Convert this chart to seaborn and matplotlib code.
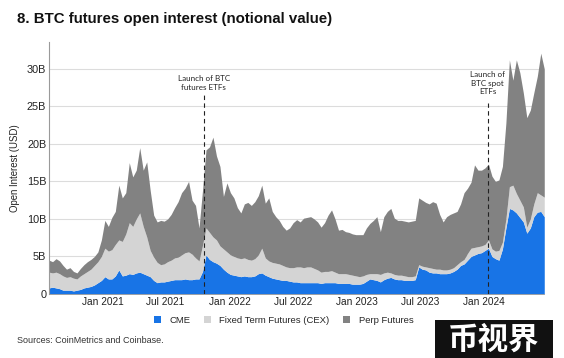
import matplotlib
matplotlib.use("Agg")
import matplotlib.pyplot as plt
from matplotlib.patches import Patch
import numpy as np
import pandas as pd
import seaborn as sns

# ── Data (USD billions, one reading every 10 days from Aug 2020) ─────────────
start_date = "2020-08-01"
step = "10D"

cme = [
    0.8, 0.9, 0.8, 0.7, 0.5, 0.5, 0.5, 0.4, 0.5, 0.6,
    0.8, 0.9, 1.0, 1.2, 1.5, 1.8, 2.3, 2.0, 2.0, 2.4,
    3.2, 2.4, 2.5, 2.7, 2.6, 2.8, 2.9, 2.7, 2.5, 2.3,
    1.8, 1.5, 1.6, 1.6, 1.7, 1.8, 1.9, 1.9, 1.9, 2.0,
    1.9, 1.9, 2.0, 2.0, 3.0, 5.2, 4.6, 4.3, 4.1, 3.8,
    3.3, 2.9, 2.6, 2.5, 2.4, 2.3, 2.4, 2.3, 2.3, 2.4,
    2.7, 2.8, 2.5, 2.3, 2.1, 2.0, 1.9, 1.8, 1.8, 1.7,
    1.6, 1.6, 1.5, 1.5, 1.5, 1.5, 1.5, 1.5, 1.4, 1.5,
    1.5, 1.5, 1.5, 1.4, 1.4, 1.4, 1.4, 1.3, 1.3, 1.3,
    1.4, 1.7, 2.0, 1.9, 1.8, 1.6, 1.9, 2.1, 2.2, 2.0,
    1.9, 1.9, 1.8, 1.8, 1.8, 1.9, 3.6, 3.3, 3.2, 2.9,
    2.8, 2.8, 2.7, 2.7, 2.7, 2.8, 3.0, 3.3, 3.8, 4.0,
    4.5, 5.0, 5.2, 5.4, 5.5, 5.8, 6.1, 5.0, 4.7, 4.5,
    6.0, 8.8, 11.4, 11.2, 10.8, 10.2, 9.6, 8.1, 8.8, 10.3,
    10.9, 11.0, 10.3,
]

fixed_term = [
    2.1, 1.9, 2.1, 2.0, 1.9, 1.7, 1.8, 1.7, 1.5, 1.8,
    1.9, 2.1, 2.3, 2.6, 2.8, 3.2, 3.8, 3.7, 3.9, 4.2,
    4.0, 4.6, 5.5, 6.8, 6.4, 7.2, 7.9, 6.3, 5.1, 3.5,
    3.1, 2.7, 2.3, 2.4, 2.6, 2.7, 2.9, 3.0, 3.3, 3.5,
    3.7, 3.4, 2.8, 2.4, 3.5, 3.6, 3.6, 3.3, 3.1, 2.6,
    2.7, 2.7, 2.6, 2.5, 2.4, 2.4, 2.4, 2.3, 2.2, 2.3,
    2.5, 3.3, 2.3, 2.1, 2.1, 2.1, 2.1, 2.0, 1.8, 1.8,
    1.9, 2.0, 2.1, 2.0, 2.1, 2.1, 1.9, 1.7, 1.5, 1.5,
    1.5, 1.6, 1.4, 1.3, 1.3, 1.3, 1.2, 1.2, 1.1, 1.0,
    1.0, 0.9, 0.7, 0.8, 0.9, 1.0, 0.9, 0.8, 0.6, 0.6,
    0.6, 0.6, 0.6, 0.5, 0.5, 0.5, 0.3, 0.4, 0.4, 0.6,
    0.6, 0.5, 0.6, 0.5, 0.5, 0.5, 0.5, 0.6, 0.5, 0.6,
    0.9, 1.1, 1.0, 0.9, 0.9, 0.8, 1.1, 1.0, 1.0, 1.3,
    0.9, 1.2, 2.9, 3.3, 2.6, 2.3, 2.0, 0.8, 1.2, 1.7,
    2.6, 2.2, 2.6,
]

perp = [
    1.6, 1.5, 1.8, 1.7, 1.4, 1.1, 1.2, 0.9, 0.8, 1.0,
    1.2, 1.3, 1.3, 1.2, 1.3, 2.2, 3.7, 3.3, 4.3, 4.4,
    7.3, 5.8, 5.5, 8.0, 6.6, 6.5, 8.7, 7.5, 10.0, 8.0,
    5.6, 5.4, 5.9, 5.7, 5.7, 6.1, 6.7, 7.4, 8.3, 8.6,
    9.4, 7.2, 7.0, 4.4, 7.3, 10.4, 11.4, 13.3, 11.2, 10.6,
    7.0, 9.2, 8.3, 7.8, 6.7, 6.1, 7.2, 7.6, 7.3, 7.6,
    7.9, 8.4, 7.3, 8.4, 6.8, 6.2, 5.8, 5.2, 4.9, 5.3,
    6.0, 6.3, 6.0, 6.6, 6.6, 6.7, 6.6, 6.4, 6.0, 6.5,
    7.5, 8.1, 7.1, 5.8, 5.9, 5.6, 5.6, 5.5, 5.5, 5.6,
    5.5, 6.2, 6.7, 7.1, 7.6, 5.7, 7.5, 8.1, 8.6, 7.5,
    7.3, 7.3, 7.3, 7.3, 7.4, 7.4, 8.9, 8.8, 8.6, 8.5,
    8.9, 8.8, 7.3, 6.4, 7.1, 7.3, 7.3, 7.1, 7.7, 8.9,
    8.7, 8.8, 11.0, 10.2, 10.1, 10.2, 10.1, 9.7, 9.3, 9.4,
    10.1, 12.8, 16.9, 14.0, 17.8, 17.0, 15.2, 14.6, 14.5, 14.8,
    15.5, 18.9, 17.1,
]

series_names = ["CME", "Fixed Term Futures (CEX)", "Perp Futures"]
series_colors = ["#1874e6", "#d4d4d4", "#828282"]

events = [
    ("2021-10-19", "Launch of BTC\nfutures ETFs", 26.5, 28.1),
    ("2024-01-11", "Launch of\nBTC spot\nETFs", 25.4, 28.1),
]

x_ticks = ["2021-01-01", "2021-07-01", "2022-01-01", "2022-07-01",
           "2023-01-01", "2023-07-01", "2024-01-01"]
x_tick_labels = ["Jan 2021", "Jul 2021", "Jan 2022", "Jul 2022",
                 "Jan 2023", "Jul 2023", "Jan 2024"]
y_ticks = [0, 5, 10, 15, 20, 25, 30]
y_tick_labels = ["0", "5B", "10B", "15B", "20B", "25B", "30B"]


# ──────────────────────────────────────────────────────────────────────────────
# Plot
# ──────────────────────────────────────────────────────────────────────────────
sns.set_theme(style="white")
plt.rcParams["font.family"] = ["Liberation Sans", "DejaVu Sans"]

dates = pd.date_range(start_date, periods=len(cme), freq=step)

fig = plt.figure(figsize=(5.64, 3.58), dpi=100)
ax = fig.add_axes([0.087, 0.179, 0.878, 0.704])

ax.stackplot(dates, cme, fixed_term, perp, colors=series_colors,
             linewidth=0, zorder=2)

ax.set_xlim(dates[0], dates[-1])
ax.set_ylim(0, 33.6)
ax.set_yticks(y_ticks)
ax.set_yticklabels(y_tick_labels, fontsize=7.8)
ax.set_xticks(pd.to_datetime(x_ticks))
ax.set_xticklabels(x_tick_labels, fontsize=7.3)
ax.tick_params(axis="both", length=0, pad=2, colors="#222222")
ax.yaxis.grid(True, color="#dcdcdc", linewidth=0.8, zorder=0)
ax.xaxis.grid(False)
ax.set_axisbelow(True)
for side in ["top", "right"]:
    ax.spines[side].set_visible(False)
ax.spines["left"].set_color("#9a9a9a")
ax.spines["left"].set_linewidth(0.8)
ax.spines["bottom"].set_color("#9a9a9a")
ax.spines["bottom"].set_linewidth(0.6)
ax.set_ylabel("Open Interest (USD)", fontsize=6.9, color="#222222", labelpad=5)

# event markers
for day, label, line_top, text_y in events:
    d = pd.Timestamp(day)
    ax.plot([d, d], [0, line_top], color="#222222", linestyle=(0, (4, 3)),
            linewidth=0.8, zorder=3)
    ax.text(d, text_y, label, ha="center", va="center", fontsize=5.8,
            family=["Lato", "DejaVu Sans"], color="#222222",
            linespacing=1.25, zorder=4)

# title, legend, source
fig.text(0.031, 0.948, "8. BTC futures open interest (notional value)",
         fontsize=10.8, fontweight="bold", color="#111111",
         va="center", ha="left")

handles = [Patch(facecolor=c, edgecolor="none") for c in series_colors]
fig.legend(handles, series_names, loc="center", ncol=3,
           bbox_to_anchor=(0.503, 0.106), frameon=False, fontsize=6.8,
           handlelength=0.75, handleheight=0.75, handletextpad=0.9,
           columnspacing=1.4)

fig.text(0.03, 0.05, "Sources: CoinMetrics and Coinbase.", fontsize=6.5,
         color="#333333", va="center", ha="left")

# watermark block in the corner
fig.patches.append(plt.Rectangle((0.771, 0.0), 0.210, 0.106,
                                 transform=fig.transFigure,
                                 facecolor="#111111", edgecolor="none"))
fig.text(0.876, 0.050, "币视界", fontsize=22, fontweight="heavy",
         family=["Noto Sans CJK SC", "DejaVu Sans"], color="white",
         ha="center", va="center")

plt.savefig("out.png", dpi=100)
plt.close()
